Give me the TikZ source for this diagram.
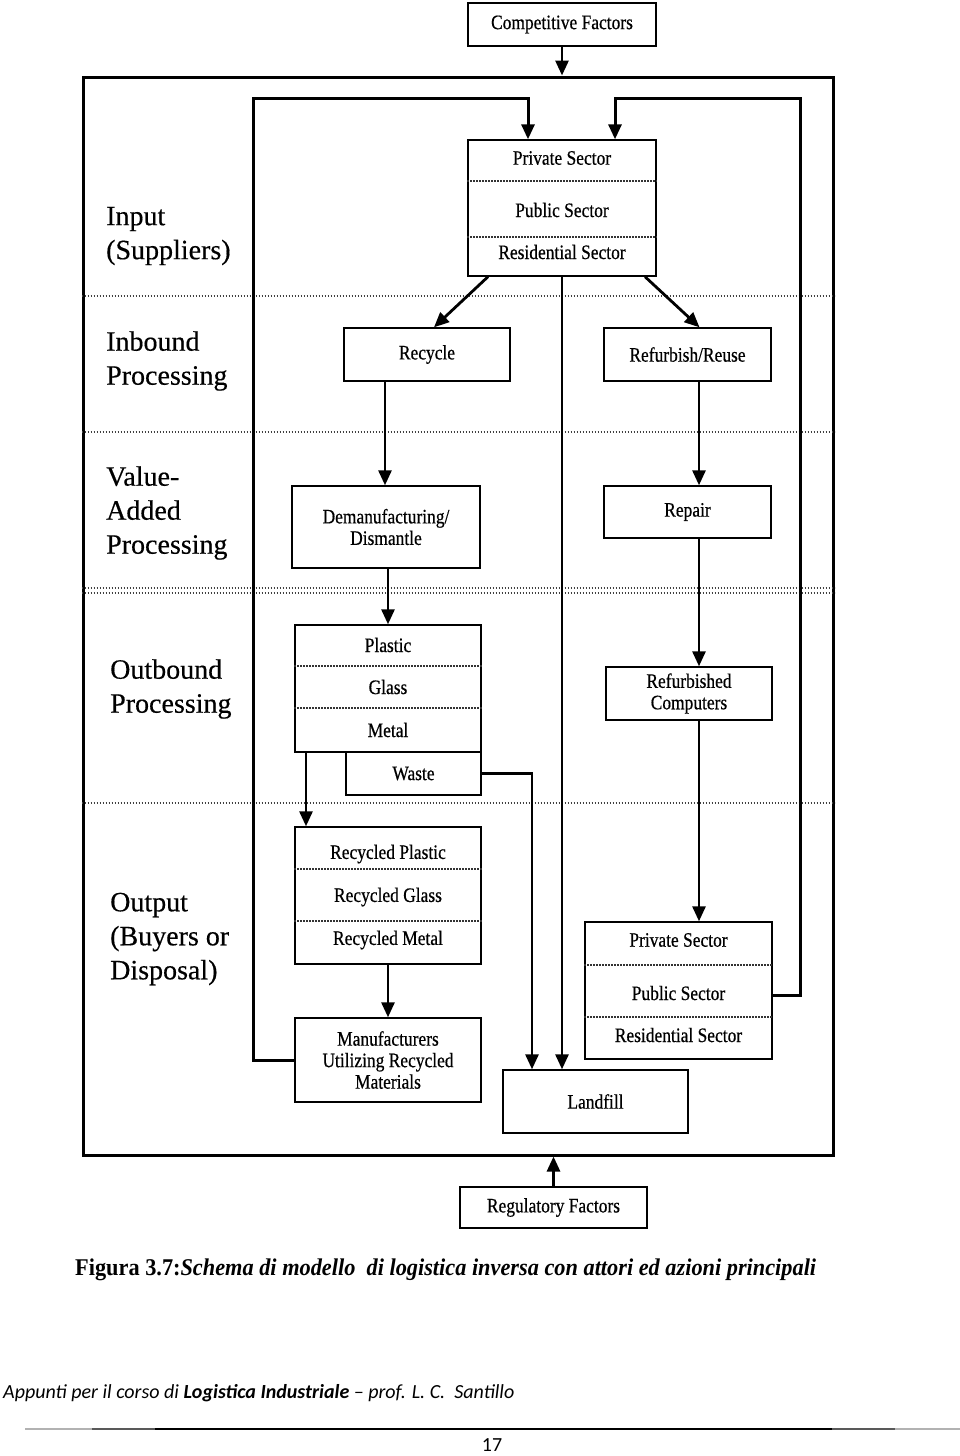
\documentclass[tikz,border=0pt]{standalone}
\usepackage{fontspec}
\setmainfont{Liberation Serif}
\newfontfamily\bxfont[FakeStretch=0.85,FakeBold=0.5]{Liberation Serif}
\newfontfamily\labfont[FakeBold=0.4]{Liberation Serif}
\newfontfamily\capfont[FakeStretch=0.93]{Liberation Serif}
\newfontfamily\footfont{Carlito}
\usetikzlibrary{arrows.meta}
\tikzset{
  frame/.style={draw, line width=3pt, inner sep=0pt},
  box/.style={draw, line width=1.4pt, inner sep=0pt, align=center,
    font=\bxfont\fontsize{20.5}{21.5}\selectfont},
  btxt/.style={inner sep=0pt, align=center, font=\bxfont\fontsize{20.5}{21.5}\selectfont},
  lab/.style={inner sep=0pt, align=left, anchor=west,
    font=\labfont\fontsize{28}{34}\selectfont},
  sep/.style={line width=1.6pt, dash pattern=on 1.6pt off 1.4pt, black!80},
  zone/.style={line width=1.6pt, dash pattern=on 1.6pt off 1.4pt, black!75},
  arr/.style={line width=2.8pt, -{Triangle[length=15pt,width=13pt]}},
  loop/.style={line width=3pt, -{Triangle[length=15pt,width=13pt]}}
}
\begin{document}
\begin{tikzpicture}[x=1pt,y=-1pt]
\useasboundingbox (0,0) rectangle (960,1456);
\fill[white] (0,0) rectangle (960,1456);

% outer frame
\node[frame, minimum width=750pt, minimum height=1078pt] (frame) at (458,616) {};

% zone separators
\foreach \yy in {296,432,588,593,803}
  \draw[zone] (frame.west |- 0,\yy) -- (frame.east |- 0,\yy);

% zone labels
\node[lab] (l1) at (106,236) {Input\\(Suppliers)};
\node[lab] (l2) at (106,361) {Inbound\\Processing};
\node[lab] (l3) at (106,513) {Value-\\Added\\Processing};
\node[lab] (l4) at (110,689) {Outbound\\Processing};
\node[lab] (l5) at (110,939) {Output\\(Buyers or\\Disposal)};

% factor boxes
\node[box, minimum width=188pt, minimum height=43pt] (cf) at (562,24.5) {Competitive Factors};
\node[box, minimum width=187pt, minimum height=41pt] (reg) at (553.5,1207.5) {Regulatory Factors};

% input sectors
\node[box, minimum width=188pt, minimum height=136pt] (in) at (562,208) {};
\draw[sep] (in.west |- 0,181) -- (in.east |- 0,181);
\draw[sep] (in.west |- 0,237) -- (in.east |- 0,237);
\node[btxt] (in1) at (562,158) {Private Sector};
\node[btxt] (in2) at (562,210) {Public Sector};
\node[btxt] (in3) at (562,252) {Residential Sector};

% processing boxes
\node[box, minimum width=166pt, minimum height=53pt] (rec) at (427,354.5) {Recycle};
\node[box, minimum width=167pt, minimum height=53pt] (ref) at (687.5,354.5) {Refurbish/Reuse};
\node[box, minimum width=188pt, minimum height=82pt] (dem) at (386,527) {Demanufacturing/\\Dismantle};
\node[box, minimum width=167pt, minimum height=52pt] (rep) at (687.5,512) {Repair};

% materials
\node[box, minimum width=186pt, minimum height=127pt] (pgm) at (388,688.5) {};
\draw[sep] (pgm.west |- 0,666) -- (pgm.east |- 0,666);
\draw[sep] (pgm.west |- 0,708) -- (pgm.east |- 0,708);
\node[btxt] (m1) at (388,645) {Plastic};
\node[btxt] (m2) at (388,687) {Glass};
\node[btxt] (m3) at (388,730) {Metal};
\node[box, minimum width=135pt, minimum height=43pt] (waste) at (413.5,773.5) {Waste};

\node[box, minimum width=166pt, minimum height=53pt] (rfc) at (689,693.5) {Refurbished\\Computers};

% recycled materials
\node[box, minimum width=186pt, minimum height=137pt] (rcy) at (388,895.5) {};
\draw[sep] (rcy.west |- 0,869) -- (rcy.east |- 0,869);
\draw[sep] (rcy.west |- 0,921) -- (rcy.east |- 0,921);
\node[btxt] (r1) at (388,854) {Recycled Plastic};
\node[btxt] (r2) at (388,897) {Recycled Glass};
\node[btxt] (r3) at (388,940) {Recycled Metal};

\node[box, minimum width=186pt, minimum height=84pt] (man) at (388,1060) {Manufacturers\\Utilizing Recycled\\Materials};

% output sectors
\node[box, minimum width=187pt, minimum height=137pt] (out) at (678.5,990.5) {};
\draw[sep] (out.west |- 0,965) -- (out.east |- 0,965);
\draw[sep] (out.west |- 0,1017) -- (out.east |- 0,1017);
\node[btxt] (o1) at (678.5,940) {Private Sector};
\node[btxt] (o2) at (678.5,993) {Public Sector};
\node[btxt] (o3) at (678.5,1035) {Residential Sector};

\node[box, minimum width=185pt, minimum height=63pt] (land) at (595.5,1101.5) {Landfill};

% connectors
\draw[arr] (cf.south) -- (cf.south |- frame.north);
\draw[arr] (reg.north) -- (reg.north |- frame.south);

\coordinate (lt) at (253,98);
\coordinate (rt) at (800,98);
\draw[loop] (man.west) -| (lt) -| ([xshift=-34pt]in.north);
\draw[loop] ([yshift=-5pt]out.east) -| (rt) -| ([xshift=53pt]in.north);

\draw[arr] ([xshift=-74pt]in.south) -- ([xshift=7pt]rec.north);
\draw[arr] ([xshift=83pt]in.south) -- ([xshift=12pt]ref.north);
\draw[arr] (in.south) -- (in.south |- land.north);

\draw[arr] ([xshift=-42pt]rec.south) -- ([xshift=-42pt]rec.south |- dem.north);
\draw[arr] ([xshift=11.5pt]ref.south) -- ([xshift=11.5pt]ref.south |- rep.north);
\draw[arr] (pgm.north |- dem.south) -- (pgm.north);
\draw[arr] ([xshift=-82pt]pgm.south) -- ([xshift=-82pt]pgm.south |- rcy.north);
\draw[arr] (waste.east) -| ([xshift=-63.5pt]land.north);
\draw[arr] ([xshift=10pt]rfc.north |- rep.south) -- ([xshift=10pt]rfc.north);
\draw[arr] ([xshift=10pt]rfc.south) -- ([xshift=10pt]rfc.south |- out.north);
\draw[arr] (rcy.south) -- (man.north);

% caption
\node[anchor=west, inner sep=0pt, font=\capfont\fontsize{24}{27}\selectfont] (cap) at (75,1270)
  {\textbf{Figura 3.7:}\textbf{\textit{Schema di modello \ di logistica inversa con attori ed azioni principali}}};

% footer
\node[anchor=west, inner sep=0pt, font=\footfont\fontsize{20}{24}\selectfont\itshape] (foot) at (3,1393)
  {Appunti per il corso di \textbf{Logistica Industriale} – prof. L. C. \ Santillo};
\draw[line width=1.2pt, black!30] (25,1429) -- (960,1429);
\draw[line width=1.4pt, black!65] (92,1429) -- (895,1429);
\draw[line width=1.6pt, black] (155,1429) -- (832,1429);
\node[inner sep=0pt, font=\footfont\fontsize{20}{24}\selectfont] (pg) at (492,1445) {17};
\end{tikzpicture}
\end{document}
